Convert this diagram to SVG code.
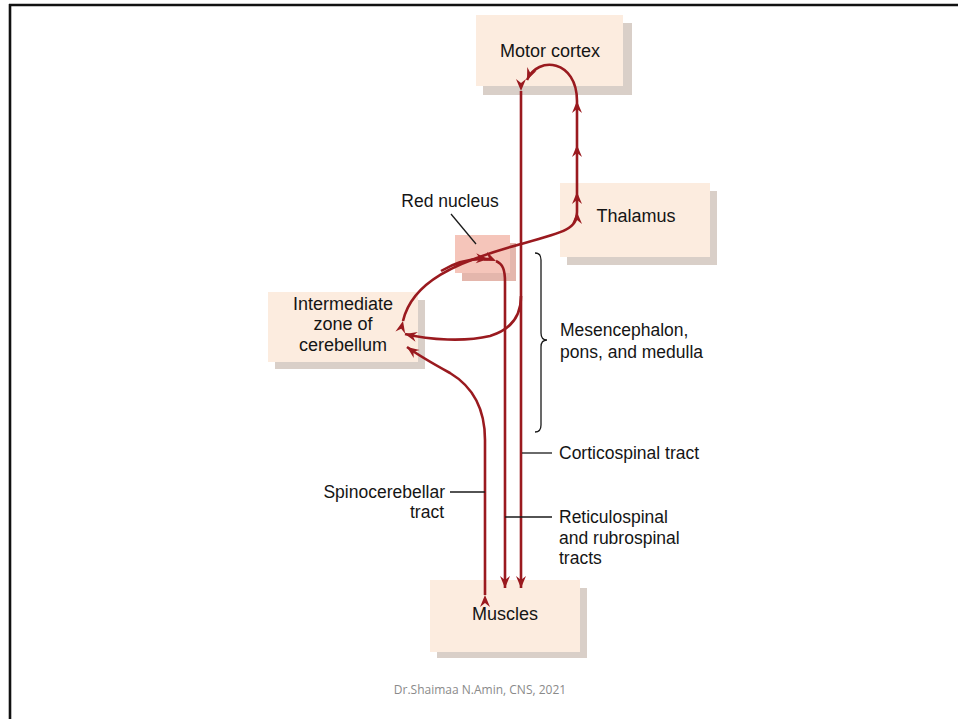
<svg xmlns="http://www.w3.org/2000/svg" width="958" height="719" viewBox="0 0 958 719">
<style>
.box{fill:#fcecdf}
.shadow{fill:#d9cfc8}
.rn{fill:#f5c5ba}
.rnshadow{fill:#e4b6ac}
.node{font-family:"Liberation Sans",Arial,sans-serif;font-size:18px;fill:#151515;text-anchor:middle}
.lbl{font-family:"Liberation Sans",Arial,sans-serif;font-size:17.5px;fill:#151515}
.tract{fill:none;stroke:#9a1a1f;stroke-width:2.6}
.lead{fill:none;stroke:#1a1a1a;stroke-width:1.3}
.foot{font-family:"Open Sans","Liberation Sans",sans-serif;font-size:12px;fill:#8a8a8a;text-anchor:middle}
</style>
<defs>
<marker id="ah" viewBox="-13 -6 14 12" refX="0" refY="0" markerWidth="14" markerHeight="12" markerUnits="userSpaceOnUse" orient="auto">
<path d="M0,0 L-12,-5 L-8,0 L-12,5 Z" fill="#9a1a1f"/>
</marker>
</defs>
<rect x="0" y="0" width="958" height="719" fill="#ffffff"/>
<g id="frame">
<line x1="9" y1="5" x2="958" y2="5" stroke="#111" stroke-width="2.6"/>
<line x1="10" y1="4" x2="10" y2="719" stroke="#111" stroke-width="2.6"/>
</g>
<g id="motor-cortex">
<rect class="shadow" x="483" y="23" width="149" height="72"/>
<rect class="box" x="476" y="15" width="147" height="71"/>
<text class="node" x="550" y="57">Motor cortex</text>
</g>
<g id="thalamus">
<rect class="shadow" x="567" y="191" width="150" height="74"/>
<rect class="box" x="560" y="183" width="150" height="74"/>
<text class="node" x="636" y="222">Thalamus</text>
</g>
<g id="red-nucleus">
<rect class="rnshadow" x="462" y="243" width="54" height="38"/>
<rect class="rn" x="455" y="235" width="55" height="38"/>
</g>
<g id="cerebellum">
<rect class="shadow" x="275" y="300" width="150" height="69"/>
<rect class="box" x="268" y="292" width="150" height="70"/>
<text class="node" x="343" y="310">Intermediate</text>
<text class="node" x="343" y="330">zone of</text>
<text class="node" x="343" y="351">cerebellum</text>
</g>
<g id="muscles">
<rect class="shadow" x="437" y="588" width="150" height="70"/>
<rect class="box" x="430" y="580" width="150" height="72"/>
<text class="node" x="505" y="620">Muscles</text>
</g>
<g id="connectors">
<path class="tract" d="M403,321 C412,282 455,262 521,244 C565,232 577,229 577,212" marker-start="url(#ah)" marker-end="url(#ah)"/>
<path class="tract" d="M577,212 L577,192 L577,145 L577,101 C577,60 538,55 527,80" marker-mid="url(#ah)" marker-end="url(#ah)"/>
<path class="tract" d="M441,271 C456,262 470,258 488,259" marker-end="url(#ah)"/>
<path class="tract" d="M496,261 C503,264 505,270 505,282 L505,588" marker-start="url(#ah)" marker-end="url(#ah)"/>
<path class="tract" d="M521,91 L521,588" marker-start="url(#ah)" marker-end="url(#ah)"/>
<path class="tract" d="M521,296 C521,318 510,330 490,336 C465,342 430,340 405,334" marker-end="url(#ah)"/>
<path class="tract" d="M485,595 L485,440 C485,405 470,385 450,373 C430,362 418,355 407,347" marker-start="url(#ah)" marker-end="url(#ah)"/>
</g>
<g id="labels">
<line class="lead" x1="451" y1="214" x2="476" y2="244"/>
<text class="lbl" x="450" y="207" text-anchor="middle">Red nucleus</text>
<path class="lead" d="M535,253 Q541,253 541,260 L541,333 Q541,340 547,340 Q541,340 541,347 L541,425 Q541,432 535,432"/>
<text class="lbl" x="560" y="336">Mesencephalon,</text>
<text class="lbl" x="560" y="358">pons, and medulla</text>
<line class="lead" x1="522" y1="453" x2="552" y2="453"/>
<text class="lbl" x="559" y="459">Corticospinal tract</text>
<line class="lead" x1="450" y1="492" x2="485" y2="492"/>
<text class="lbl" x="445" y="498" text-anchor="end">Spinocerebellar</text>
<text class="lbl" x="444" y="518" text-anchor="end">tract</text>
<line class="lead" x1="505" y1="517" x2="552" y2="517"/>
<text class="lbl" x="559" y="523">Reticulospinal</text>
<text class="lbl" x="559" y="544">and rubrospinal</text>
<text class="lbl" x="559" y="564">tracts</text>
</g>
<text class="foot" x="480" y="694">Dr.Shaimaa N.Amin, CNS, 2021</text>
</svg>
